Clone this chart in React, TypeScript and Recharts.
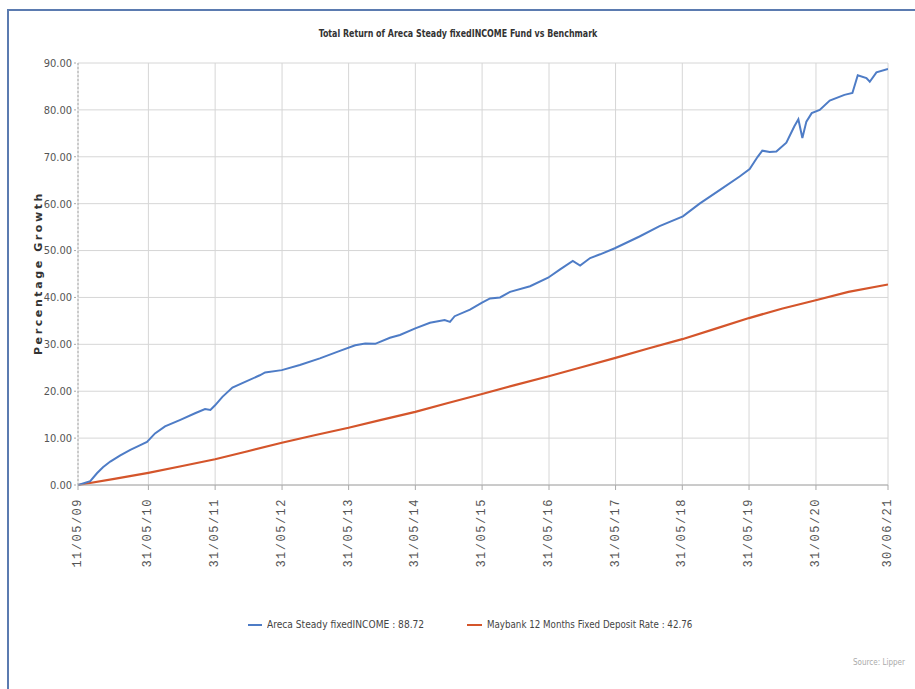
import React from 'react';
import { LineChart, Line, XAxis, YAxis, CartesianGrid } from 'recharts';

// tick dates on the time axis (dd/mm/yy as shown)
const tickDates = [
  '2009-05-11', '2010-05-31', '2011-05-31', '2012-05-31', '2013-05-31', '2014-05-31',
  '2015-05-31', '2016-05-31', '2017-05-31', '2018-05-31', '2019-05-31', '2020-05-31', '2021-06-30',
];
const tickLabels = [
  '11/05/09', '31/05/10', '31/05/11', '31/05/12', '31/05/13', '31/05/14',
  '31/05/15', '31/05/16', '31/05/17', '31/05/18', '31/05/19', '31/05/20', '30/06/21',
];
const yTicks = [0, 10, 20, 30, 40, 50, 60, 70, 80, 90];

// Areca Steady fixedINCOME, time in decimal years
const fundYears = [
  2009.356, 2009.54, 2009.64, 2009.73, 2009.84, 2009.99, 2010.14, 2010.29, 2010.39, 2010.51,
  2010.66, 2010.89, 2011.11, 2011.26, 2011.34, 2011.41, 2011.52, 2011.67, 2011.86, 2012.08,
  2012.16, 2012.41, 2012.68, 2012.98, 2013.28, 2013.51, 2013.66, 2013.81, 2014.03, 2014.18,
  2014.41, 2014.63, 2014.85, 2014.93, 2015.0, 2015.23, 2015.41, 2015.53, 2015.68, 2015.83,
  2016.13, 2016.4, 2016.58, 2016.77, 2016.88, 2017.03, 2017.18, 2017.4, 2017.77, 2018.07,
  2018.42, 2018.67, 2018.97, 2019.27, 2019.42, 2019.54, 2019.61, 2019.72, 2019.82, 2019.97,
  2020.09, 2020.15, 2020.21, 2020.27, 2020.35, 2020.47, 2020.62, 2020.84, 2020.96, 2021.04,
  2021.17, 2021.22, 2021.32, 2021.493,
];
const fundValues = [
  0, 0.8, 2.5, 3.8, 5.0, 6.3, 7.5, 8.5, 9.2, 11.0,
  12.5, 13.9, 15.3, 16.2, 16.0, 17.0, 18.8, 20.8, 22.0, 23.4,
  24.0, 24.5, 25.6, 27.0, 28.6, 29.8, 30.2, 30.1, 31.4, 32.0,
  33.4, 34.6, 35.2, 34.8, 36.0, 37.4, 38.9, 39.8, 40.0, 41.2,
  42.4, 44.2, 46.0, 47.8, 46.8, 48.4, 49.2, 50.5, 53.0, 55.2,
  57.3, 60.0, 62.9, 65.8, 67.4, 70.0, 71.3, 71.0, 71.1, 73.0,
  76.5, 78.0, 74.0, 77.5, 79.3, 80.0, 82.0, 83.2, 83.6, 87.4,
  86.8, 86.0, 88.0, 88.72,
];

// Maybank 12 Months Fixed Deposit Rate
const benchYears = [
  2009.356, 2009.9, 2010.41, 2010.9, 2011.41, 2011.9, 2012.41, 2012.9, 2013.41, 2013.9,
  2014.41, 2014.9, 2015.41, 2015.9, 2016.41, 2016.9, 2017.41, 2017.9, 2018.41, 2018.9,
  2019.41, 2019.9, 2020.41, 2020.9, 2021.493,
];
const benchValues = [
  0, 1.3, 2.6, 4.0, 5.5, 7.2, 9.0, 10.6, 12.2, 13.9,
  15.6, 17.5, 19.4, 21.3, 23.2, 25.1, 27.1, 29.1, 31.1, 33.3,
  35.6, 37.6, 39.4, 41.2, 42.76,
];

const toYear = (s: string) => {
  const d = new Date(s + 'T00:00:00Z');
  const start = Date.UTC(d.getUTCFullYear(), 0, 1);
  return d.getUTCFullYear() + (d.getTime() - start) / (365 * 86400000);
};

const xTicks = tickDates.map(toYear);
const fundData = fundYears.map((t, i) => ({ t, v: fundValues[i] }));
const benchData = benchYears.map((t, i) => ({ t, v: benchValues[i] }));

const narrow = '"DejaVu Sans Condensed", "Liberation Sans", sans-serif';

function XTick(props: any) {
  const { x, y, index } = props;
  const yy = y + 6;
  return (
    <text
      x={x}
      y={yy}
      transform={`rotate(-90, ${x}, ${yy})`}
      textAnchor="end"
      dominantBaseline="central"
      fontSize={12}
      fontFamily='"Liberation Mono", "DejaVu Sans Mono", monospace'
      letterSpacing={1.5}
      fill="#555"
    >
      {tickLabels[index]}
    </text>
  );
}

const legendItem: React.CSSProperties = {
  position: 'absolute',
  top: 618,
  display: 'flex',
  alignItems: 'center',
  fontFamily: narrow,
  fontSize: 11,
  color: '#444',
  whiteSpace: 'nowrap',
};

export default function App() {
  return (
    <div style={{ position: 'absolute', left: 0, top: 0, width: 915, height: 689, background: '#fff', overflow: 'hidden' }}>
      <div
        style={{
          position: 'absolute',
          left: 7,
          top: 9,
          width: 1000,
          height: 1000,
          borderTop: '2px solid #5b7bb0',
          borderLeft: '2px solid #5b7bb0',
        }}
      />
      <div
        style={{
          position: 'absolute',
          left: 0,
          width: 915,
          top: 27,
          textAlign: 'center',
          fontFamily: narrow,
          fontWeight: 'bold',
          fontSize: 11,
          color: '#333',
          transform: 'scaleX(0.8)',
          transformOrigin: '460px 0',
        }}
      >
        Total Return of Areca Steady fixedINCOME Fund vs Benchmark
      </div>
      <div
        style={{
          position: 'absolute',
          left: 38,
          top: 273,
          transform: 'translate(-50%, -50%) rotate(-90deg)',
          whiteSpace: 'nowrap',
          fontFamily: '"DejaVu Sans", sans-serif',
          fontWeight: 'bold',
          fontSize: 11,
          letterSpacing: 2.6,
          color: '#333',
        }}
      >
        Percentage Growth
      </div>
      <div style={{ position: 'absolute', left: 0, top: 0 }}>
        <LineChart width={915} height={689} margin={{ top: 63, right: 27, left: 18, bottom: 114 }}>
          <CartesianGrid stroke="#d6d6d6" />
          <XAxis
            type="number"
            dataKey="t"
            domain={[xTicks[0], xTicks[xTicks.length - 1]]}
            ticks={xTicks}
            allowDataOverflow
            height={90}
            stroke="#aaa"
            tickSize={5}
            tick={<XTick />}
            interval={0}
          />
          <YAxis
            type="number"
            domain={[0, 90]}
            ticks={yTicks}
            width={60}
            stroke="#aaa"
            strokeDasharray="2 2"
            tickSize={4}
            tickFormatter={(v: number) => v.toFixed(2)}
            tick={{ fontSize: 11, fill: '#555', fontFamily: narrow }}
          />
          <Line
            data={benchData}
            dataKey="v"
            type="linear"
            stroke="#d4552b"
            strokeWidth={2.2}
            dot={false}
            isAnimationActive={false}
          />
          <Line
            data={fundData}
            dataKey="v"
            type="linear"
            stroke="#4e7cc6"
            strokeWidth={2}
            dot={false}
            isAnimationActive={false}
          />
        </LineChart>
      </div>
      <div style={{ ...legendItem, left: 248 }}>
        <span style={{ display: 'inline-block', width: 14, height: 2, background: '#4e7cc6', marginRight: 5 }} />
        <span style={{ display: 'inline-block', transform: 'scaleX(0.92)', transformOrigin: '0 0' }}>
          Areca Steady fixedINCOME : 88.72
        </span>
      </div>
      <div style={{ ...legendItem, left: 467 }}>
        <span style={{ display: 'inline-block', width: 15, height: 2, background: '#d4552b', marginRight: 5 }} />
        <span style={{ display: 'inline-block', transform: 'scaleX(0.88)', transformOrigin: '0 0' }}>
          Maybank 12 Months Fixed Deposit Rate : 42.76
        </span>
      </div>
      <div style={{ position: 'absolute', left: 853, top: 658, fontFamily: narrow, fontSize: 8, color: '#aaa' }}>
        Source: Lipper
      </div>
    </div>
  );
}
